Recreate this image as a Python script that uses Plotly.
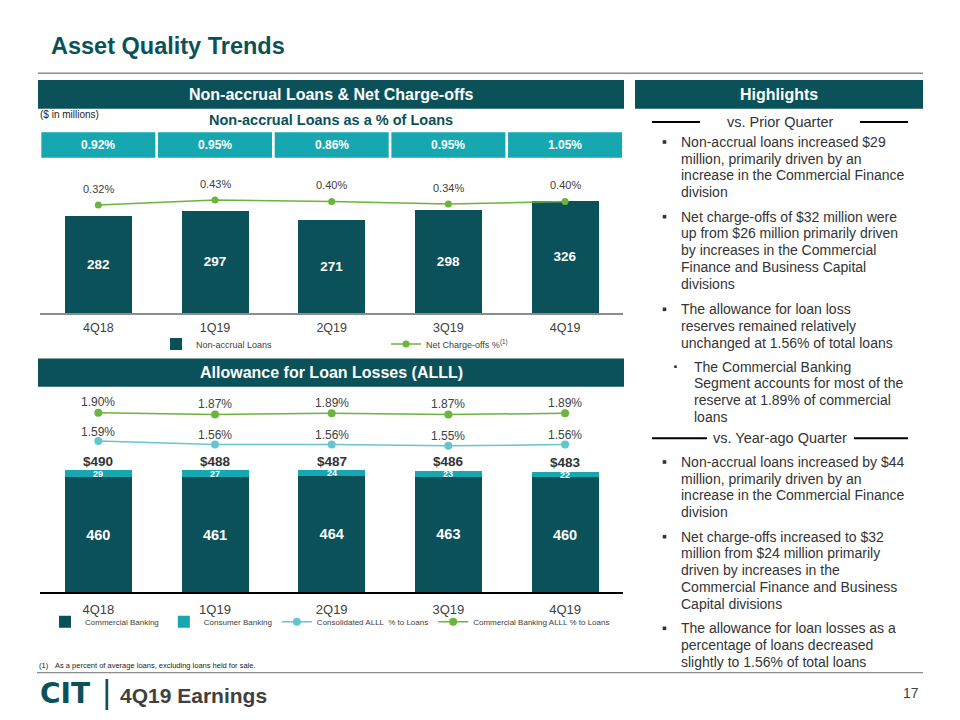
import plotly.graph_objects as go

# ---------------- data ----------------
quarters = ["4Q18", "1Q19", "2Q19", "3Q19", "4Q19"]
nonaccrual_loans = [282, 297, 271, 298, 326]
nonaccrual_pct_of_loans = [0.92, 0.95, 0.86, 0.95, 1.05]
net_chargeoffs_pct = [0.32, 0.43, 0.40, 0.34, 0.40]

commercial_banking = [460, 461, 464, 463, 460]
consumer_banking = [29, 27, 24, 23, 22]
total_alll = [490, 488, 487, 486, 483]
consolidated_alll_pct = [1.59, 1.56, 1.56, 1.55, 1.56]
commercial_alll_pct = [1.90, 1.87, 1.89, 1.87, 1.89]

highlights_prior = [
    ["Non-accrual loans increased $29", "million, primarily driven by an",
     "increase in the Commercial Finance", "division"],
    ["Net charge-offs of $32 million were", "up from $26 million primarily driven",
     "by increases in the Commercial", "Finance and Business Capital", "divisions"],
    ["The allowance for loan loss", "reserves remained relatively",
     "unchanged at 1.56% of total loans"],
]
highlights_sub = ["The Commercial Banking", "Segment accounts for most of the",
                  "reserve at 1.89% of commercial", "loans"]
highlights_yearago = [
    ["Non-accrual loans increased by $44", "million, primarily driven by an",
     "increase in the Commercial Finance", "division"],
    ["Net charge-offs increased to $32", "million from $24 million primarily",
     "driven by increases in the", "Commercial Finance and Business", "Capital divisions"],
    ["The allowance for loan losses as a", "percentage of loans decreased",
     "slightly to 1.56% of total loans"],
]

# ---------------- styling ----------------
W, H = 960, 720
def X(px): return px / W
def Y(py): return 1 - py / H

DARK = "#0b5159"
CYAN = "#16a7b1"
GREEN = "#6cb33f"
BLUE = "#66c4d1"
TXT = "#404040"
FONT = "Liberation Sans, Arial, sans-serif"

fig = go.Figure()

# ---------------- chart 1 ----------------
fig.add_trace(go.Bar(
    x=quarters, y=nonaccrual_loans, name="Non-accrual Loans",
    marker=dict(color=DARK, line=dict(width=0)),
    text=nonaccrual_loans, textposition="inside", insidetextanchor="middle", textangle=0,
    textfont=dict(family=FONT, size=13.5, color="white", weight="bold"),
    xaxis="x", yaxis="y", legend="legend", hoverinfo="skip"))
fig.add_trace(go.Scatter(
    x=quarters, y=net_chargeoffs_pct, name="Net Charge-offs %<sup>(1)</sup>",
    mode="lines+markers", line=dict(color=GREEN, width=1.5),
    marker=dict(size=7, color=GREEN),
    xaxis="x", yaxis="y2", legend="legend", hoverinfo="skip"))

# ---------------- chart 2 ----------------
fig.add_trace(go.Bar(
    x=quarters, y=commercial_banking, name="Commercial Banking",
    marker=dict(color=DARK, line=dict(width=0)),
    text=commercial_banking, textposition="inside", insidetextanchor="middle", textangle=0,
    textfont=dict(family=FONT, size=14.5, color="white", weight="bold"),
    xaxis="x2", yaxis="y3", legend="legend2", hoverinfo="skip"))
fig.add_trace(go.Bar(
    x=quarters, y=consumer_banking, name="Consumer Banking",
    marker=dict(color=CYAN, line=dict(width=0)),
    xaxis="x2", yaxis="y3", legend="legend2", hoverinfo="skip"))
fig.add_trace(go.Scatter(
    x=quarters, y=consolidated_alll_pct, name="Consolidated ALLL  % to Loans",
    mode="lines+markers", line=dict(color=BLUE, width=1.5),
    marker=dict(size=8, color=BLUE),
    xaxis="x2", yaxis="y5", legend="legend2", hoverinfo="skip"))
fig.add_trace(go.Scatter(
    x=quarters, y=commercial_alll_pct, name="Commercial Banking ALLL % to Loans",
    mode="lines+markers", line=dict(color=GREEN, width=1.5),
    marker=dict(size=8, color=GREEN),
    xaxis="x2", yaxis="y4", legend="legend2", hoverinfo="skip"))

annotations = []
shapes = []

def ann(text, x, y, size, color=TXT, bold=False, xanchor="center", family=FONT,
        xref="paper", yref="paper", yshift=0, yanchor="middle"):
    annotations.append(dict(
        text=text, x=x, y=y, xref=xref, yref=yref, showarrow=False,
        xanchor=xanchor, yanchor=yanchor, yshift=yshift,
        font=dict(family=family, size=size, color=color, weight="bold" if bold else "normal")))

def rect(x0, x1, y0, y1, color, xref="paper"):
    shapes.append(dict(type="rect", xref=xref, yref="paper",
                       x0=x0, x1=x1, y0=Y(y1), y1=Y(y0),
                       fillcolor=color, line=dict(width=0), layer="below"))

def hline(x0, x1, y, color, width):
    shapes.append(dict(type="line", xref="paper", yref="paper",
                       x0=X(x0), x1=X(x1), y0=Y(y), y1=Y(y),
                       line=dict(color=color, width=width)))

# title and header bars
ann("Asset Quality Trends", X(49), Y(46), 23.5, color=DARK, bold=True, xanchor="left")
hline(38, 923, 73.3, "#8c8c8c", 1.5)
rect(X(38), X(624), 80, 108.7, DARK)
rect(X(635), X(923), 80, 108.7, DARK)
ann("Non-accrual Loans & Net Charge-offs", X(331), Y(94.5), 16, color="white", bold=True)
ann("Highlights", X(779), Y(94.5), 16, color="white", bold=True)
ann("($ in millions)", X(38), Y(115), 10, color="#222222", xanchor="left")
ann("Non-accrual Loans as a % of Loans", X(331), Y(120), 14.5, color=DARK, bold=True)

# boxes with non-accrual % of loans
for i, (q, p) in enumerate(zip(quarters, nonaccrual_pct_of_loans)):
    shapes.append(dict(type="rect", xref="x", yref="paper", x0=i - 0.4885, x1=i + 0.4885,
                       y0=Y(157.7), y1=Y(132.3), fillcolor=CYAN, line=dict(width=0),
                       layer="below"))
    ann(f"{p:.2f}%", q, Y(145), 12, color="white", bold=True, xref="x")

# NCO labels
for q, v in zip(quarters, net_chargeoffs_pct):
    ann(f"{v:.2f}%", q, v, 11, xref="x", yref="y2", yshift=16)

# chart 2 header
rect(X(38), X(624), 358.5, 386.7, DARK)
ann("Allowance for Loan Losses (ALLL)", X(331), Y(372.5), 16, color="white", bold=True)

for q, v in zip(quarters, commercial_alll_pct):
    ann(f"{v:.2f}%", q, v, 12, xref="x2", yref="y4", yshift=10.7)
for q, v in zip(quarters, consolidated_alll_pct):
    ann(f"{v:.2f}%", q, v, 12, xref="x2", yref="y5", yshift=9.5)
for q, c, s, t in zip(quarters, commercial_banking, consumer_banking, total_alll):
    ann(f"${t}", q, c + s, 13.5, color="#333333", bold=True, xref="x2", yref="y3", yshift=9)
    ann(f"{s}", q, c + s / 2, 9, color="white", bold=True, xref="x2", yref="y3")

# highlights panel
LS = 16.7
HL = 14
HLC = "#333333"
def divider(label, y, xl1, xr0):
    hline(652, xl1, y, "black", 2)
    hline(xr0, 908, y, "black", 2)
    ann(label, X(780), Y(y), 14.5, color=HLC)

def bullet_block(lines, y0, xt, xb, bs=3.6):
    rect(X(xb - bs / 2), X(xb + bs / 2), y0 - bs / 2, y0 + bs / 2, HLC)
    for k, line in enumerate(lines):
        ann(line, X(xt), Y(y0 + k * LS), HL, color=HLC, xanchor="left")

divider("vs. Prior Quarter", 122, 700, 860)
bullet_block(highlights_prior[0], 142, 679, 664.5)
bullet_block(highlights_prior[1], 216.7, 679, 664.5)
bullet_block(highlights_prior[2], 309.3, 679, 664.5)
bullet_block(highlights_sub, 366.7, 691.5, 675.5, bs=2.6)
divider("vs. Year-ago Quarter", 438.3, 707, 854)
bullet_block(highlights_yearago[0], 462, 679, 664.5)
bullet_block(highlights_yearago[1], 536.7, 679, 664.5)
bullet_block(highlights_yearago[2], 628.3, 679, 664.5)

# footer
hline(37, 923, 672.6, "#8c8c8c", 1.2)
ann("(1)", X(36.5), Y(665), 7.5, color="#222222", xanchor="left")
ann("As a percent of average loans, excluding loans held for sale.", X(53), Y(665), 7.5,
    color="#222222", xanchor="left")
ann("CIT", X(38), Y(693), 28, color=DARK, bold=True, xanchor="left",
    family="DejaVu Sans, Liberation Sans, sans-serif")
rect(X(105.5), X(108.2), 679, 710, DARK)
ann("4Q19 Earnings", X(118), Y(695), 21, color=TXT, bold=True, xanchor="left")
ann("17", X(911), Y(693), 14, color=TXT)

axis_common = dict(showgrid=False, zeroline=False, ticks="", fixedrange=True,
                   range=[-0.5, 4.5], domain=[X(40), X(623.4)])

fig.update_layout(
    width=W, height=H, autosize=False,
    margin=dict(l=0, r=0, t=0, b=0),
    paper_bgcolor="white", plot_bgcolor="white",
    font=dict(family=FONT, color=TXT),
    barmode="stack", bargap=0.426,
    showlegend=True,
    xaxis=dict(**axis_common, anchor="y", showline=True, linecolor="#8c8c8c", linewidth=2,
               ticklabelstandoff=2,
               tickfont=dict(family=FONT, size=12.5, color=TXT)),
    yaxis=dict(domain=[Y(313), Y(165)], range=[0, 148 / 0.344], visible=False, fixedrange=True),
    yaxis2=dict(overlaying="y", range=[(219.4 - 313) / 45, (219.4 - 165) / 45],
                visible=False, fixedrange=True),
    xaxis2=dict(**axis_common, anchor="y3", showline=True, linecolor="black", linewidth=1.5,
                ticklabelstandoff=5,
                tickfont=dict(family=FONT, size=13, color=TXT)),
    yaxis3=dict(domain=[Y(592), Y(395)], range=[0, 197 / 0.249], visible=False, fixedrange=True),
    yaxis4=dict(overlaying="y3", range=[(526.7 - 592) / 60, (526.7 - 395) / 60],
                visible=False, fixedrange=True),
    yaxis5=dict(overlaying="y3", range=[(631.8 - 592) / 120, (631.8 - 395) / 120],
                visible=False, fixedrange=True),
    legend=dict(orientation="h", x=X(156), xanchor="left", y=Y(344), yanchor="middle",
                font=dict(family=FONT, size=9, color=TXT), bgcolor="rgba(0,0,0,0)",
                entrywidth=185, entrywidthmode="pixels", traceorder="normal"),
    legend2=dict(orientation="h", x=X(45), xanchor="left", y=Y(621.7), yanchor="middle",
                 font=dict(family=FONT, size=8, color=TXT), bgcolor="rgba(0,0,0,0)",
                 traceorder="normal"),
    annotations=annotations, shapes=shapes,
)

fig.write_html("out.html", config={"displayModeBar": False},
               post_script="document.body.style.margin='0px';")
